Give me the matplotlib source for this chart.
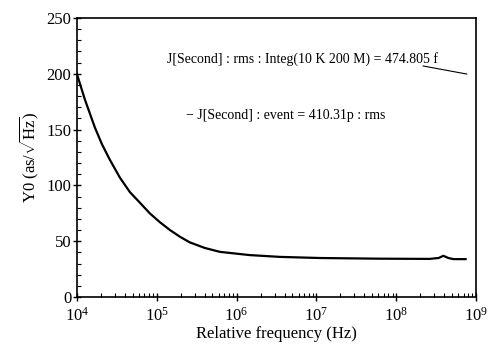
import matplotlib
matplotlib.use('Agg')
import matplotlib.pyplot as plt
from matplotlib.ticker import LogLocator, MultipleLocator, NullFormatter

plt.rcParams['font.family'] = ['Liberation Serif', 'DejaVu Serif']
plt.rcParams['mathtext.fontset'] = 'custom'
plt.rcParams['mathtext.rm'] = 'Liberation Serif'
plt.rcParams['mathtext.it'] = 'Liberation Serif:italic'

# frequency (Hz) and Y0 values
freq = [1.0e4, 1.26e4, 1.68e4, 2.06e4, 2.59e4, 3.46e4, 4.62e4, 6.17e4, 8.2e4,
        1.1e5, 1.47e5, 1.96e5, 2.6e5, 4.0e5, 6.2e5, 1.47e6, 3.5e6,
        1.1e7, 6.0e7, 2.6e8, 3.4e8, 3.9e8, 4.5e8, 5.2e8, 7.4e8]
y0 = [200, 177, 152, 137, 123, 107, 94, 84.5, 75,
      67, 60, 54, 49, 44, 40.5, 37.6, 36.0,
      35.0, 34.4, 34.2, 35.0, 37.0, 35.0, 34.0, 34.0]

rms_text = 'J[Second] : rms : Integ(10 K 200 M) = 474.805 f'
event_text = '\u2212 J[Second] : event = 410.31p : rms'

fig = plt.figure(figsize=(4.99, 3.52), dpi=100)
ax = fig.add_axes([0.154, 0.156, 0.800, 0.793])

ax.plot(freq, y0, color='black', lw=1.6)

ax.set_xscale('log')
ax.set_xlim(1e4, 1e9)
ax.set_ylim(0, 250)

ax.xaxis.set_major_locator(LogLocator(base=10, numticks=10))
ax.xaxis.set_minor_locator(LogLocator(base=10, subs=range(2, 10), numticks=20))
ax.xaxis.set_minor_formatter(NullFormatter())
ax.yaxis.set_major_locator(MultipleLocator(50))
ax.yaxis.set_minor_locator(MultipleLocator(10))

ax.tick_params(which='major', direction='inout', length=6, width=1,
               labelsize=12, top=False, right=False)
ax.tick_params(which='minor', direction='in', length=3, width=0.8,
               top=False, right=False)
ax.tick_params(axis='x', which='major', pad=4)
ax.tick_params(axis='y', which='major', pad=1)

for s in ax.spines.values():
    s.set_linewidth(1.2)

ax.set_xlabel('Relative frequency (Hz)', fontsize=12, labelpad=1)
ax.set_ylabel(r'Y0 (as/$\sqrt{\mathrm{Hz}}$)', fontsize=12, labelpad=4)

ax.text(0.226, 0.852, rms_text, transform=ax.transAxes, fontsize=10,
        ha='left', va='center')
ax.annotate('', xy=(0.977, 0.799), xytext=(0.867, 0.828),
            xycoords='axes fraction',
            arrowprops=dict(arrowstyle='-', color='black', lw=0.8,
                            shrinkA=0, shrinkB=0))
ax.text(0.274, 0.652, event_text, transform=ax.transAxes, fontsize=10,
        ha='left', va='center')

fig.savefig('out.png', dpi=100)
